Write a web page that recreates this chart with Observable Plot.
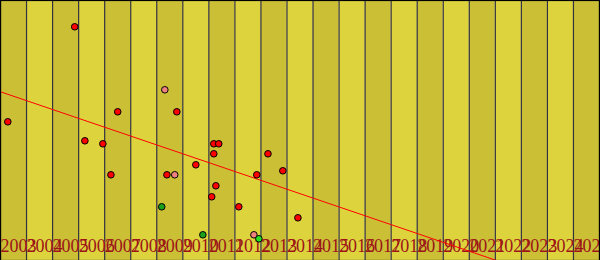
<!DOCTYPE html>
<html>
<head>
<meta charset="utf-8">
<script src="https://cdn.jsdelivr.net/npm/d3@7"></script>
<script src="https://cdn.jsdelivr.net/npm/@observablehq/plot@0.6"></script>
<style>
  html, body { margin: 0; padding: 0; background: #fff; }
  svg { display: block; }
</style>
</head>
<body>
<div id="chart"></div>
<script>
// Year bands / tick labels
const years = d3.range(2003, 2026);          // 2003 … 2025 (bands)
const boundaries = d3.range(2003, 2027);     // 2003 … 2026 (lines)
const tickLabels = years.map(String);

// Scatter points (year as decimal, value, category)
const pointYears = [2005.85, 2009.31, 2007.50, 2009.77, 2003.28, 2006.24, 2006.93, 2007.24,
  2009.39, 2009.69, 2010.50, 2009.19, 2011.19, 2011.38, 2011.19, 2013.27, 2011.27,
  2011.11, 2012.84, 2013.84, 2012.15, 2014.42, 2010.77, 2012.73, 2012.92];
const pointValues = [233.7, 170.7, 148.7, 148.7, 138.7, 119.7, 116.7, 85.7,
  85.7, 85.7, 95.7, 53.7, 116.7, 116.7, 106.7, 106.7, 74.7,
  63.7, 85.7, 89.7, 53.7, 42.7, 25.7, 25.7, 21.7];
const pointKinds = ["red", "salmon", "red", "red", "red", "red", "red", "red",
  "red", "salmon", "red", "green", "red", "red", "red", "red", "red",
  "red", "red", "red", "red", "red", "green", "salmon", "lime"];

// Trend line endpoints
const trendYears = [2003, 2026];
const trendValues = [168.7, -35];

const kindColor = {red: "#ff0000", salmon: "#f08080", green: "#1aa01a", lime: "#22e022"};

const points = pointYears.map((x, i) => ({x, y: pointValues[i], kind: pointKinds[i]}));
const bands = years.map((y, i) => ({x1: y, x2: y + 1, dark: i % 2 === 0}));
const trend = trendYears.map((x, i) => ({x, y: trendValues[i]}));

const chart = Plot.plot({
  width: 600,
  height: 260,
  marginLeft: 0,
  marginRight: 1,
  marginTop: 0,
  marginBottom: 0,
  x: {domain: [2003, 2026], axis: null},
  y: {domain: [0, 260], axis: null},
  style: {background: "transparent"},
  marks: [
    Plot.rectY(bands, {x1: "x1", x2: "x2", y1: 0, y2: 260,
      fill: d => d.dark ? "#cbbf36" : "#ddd43d"}),
    Plot.ruleX(boundaries, {stroke: "#333340", strokeWidth: 1.2}),
    Plot.text(tickLabels, {x: d => +d, text: d => d, frameAnchor: "bottom", dy: -9,
      textAnchor: "start", lineAnchor: "bottom", fill: "#9c1418",
      fontFamily: "Liberation Serif", fontSize: 18}),
    Plot.line(trend, {x: "x", y: "y", stroke: "#ff0000", strokeWidth: 1, clip: true}),
    Plot.dot(points, {x: "x", y: "y", r: 3.3, fill: d => kindColor[d.kind],
      stroke: "#000", strokeWidth: 1}),
    Plot.frame({stroke: "#000", strokeWidth: 1.2})
  ]
});
document.getElementById("chart").append(chart);
</script>
</body>
</html>
